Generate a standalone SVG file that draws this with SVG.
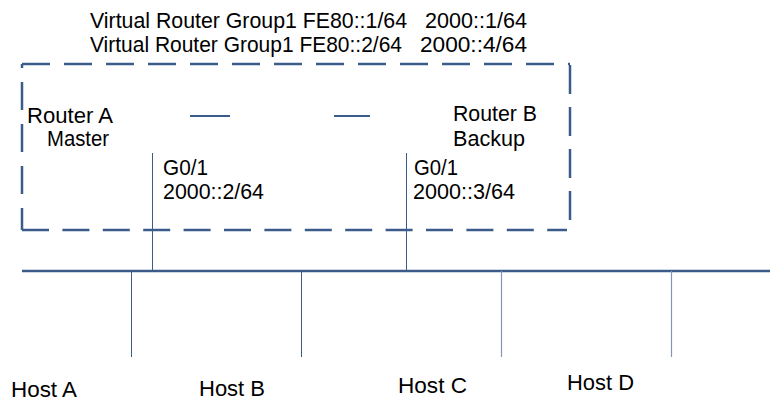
<svg xmlns="http://www.w3.org/2000/svg" width="770" height="401" viewBox="0 0 770 401">
<style>
text{font-family:"Liberation Sans",Arial,sans-serif;font-size:22px;fill:#000}
.edge{fill:none;stroke:#3B5B8B;stroke-width:2.5;stroke-dasharray:28 14}
.bus{stroke:#3B5B8B;stroke-width:2.5}
.thin{stroke:#3B5B8B;stroke-width:1}
.light{stroke:#8495B5;stroke-width:1.2}
.mid{stroke:#3B5B8B;stroke-width:2}
</style>
<rect width="770" height="401" fill="#fff"/>
<g id="virtual-router-group">
<line class="edge" x1="22" y1="64" x2="570" y2="64"/>
<line class="edge" x1="22" y1="64" x2="22" y2="230" stroke-dashoffset="24"/>
<line class="edge" x1="22" y1="230" x2="567" y2="230" style="stroke-dasharray:27 13.4"/>
<line class="edge" x1="570" y1="65" x2="570" y2="224" style="stroke-dasharray:29 13"/>
<line class="mid" x1="190" y1="116" x2="230" y2="116"/>
<line class="mid" x1="334" y1="116" x2="370" y2="116"/>
<text x="90" y="28" textLength="317" lengthAdjust="spacingAndGlyphs">Virtual Router Group1 FE80::1/64</text>
<text x="425" y="28" textLength="102" lengthAdjust="spacingAndGlyphs">2000::1/64</text>
<text x="90" y="52" textLength="312" lengthAdjust="spacingAndGlyphs">Virtual Router Group1 FE80::2/64</text>
<text x="420" y="52" textLength="107" lengthAdjust="spacingAndGlyphs">2000::4/64</text>
</g>
<g id="router-a">
<text x="27" y="123" textLength="86" lengthAdjust="spacingAndGlyphs">Router A</text>
<text x="47" y="146" textLength="62" lengthAdjust="spacingAndGlyphs">Master</text>
<text x="163" y="175" textLength="45" lengthAdjust="spacingAndGlyphs">G0/1</text>
<text x="163" y="199" textLength="101" lengthAdjust="spacingAndGlyphs">2000::2/64</text>
</g>
<g id="router-b">
<text x="453" y="121" textLength="84" lengthAdjust="spacingAndGlyphs">Router B</text>
<text x="453" y="146" textLength="72" lengthAdjust="spacingAndGlyphs">Backup</text>
<text x="414" y="175" textLength="44" lengthAdjust="spacingAndGlyphs">G0/1</text>
<text x="413" y="199" textLength="102" lengthAdjust="spacingAndGlyphs">2000::3/64</text>
</g>
<g id="connectors">
<line class="bus" x1="22" y1="271" x2="770" y2="271"/>
<line class="thin" x1="152.5" y1="153" x2="152.5" y2="271"/>
<line class="thin" x1="406.5" y1="153" x2="406.5" y2="271"/>
<line class="thin" x1="131.5" y1="271" x2="131.5" y2="357"/>
<line class="thin" x1="301.5" y1="271" x2="301.5" y2="357"/>
<line class="light" x1="501.5" y1="271" x2="501.5" y2="357"/>
<line class="light" x1="671.5" y1="271" x2="671.5" y2="357"/>
</g>
<g id="host-a"><text x="11" y="397" textLength="66" lengthAdjust="spacingAndGlyphs">Host A</text></g>
<g id="host-b"><text x="199" y="396" textLength="66" lengthAdjust="spacingAndGlyphs">Host B</text></g>
<g id="host-c"><text x="398" y="393" textLength="69" lengthAdjust="spacingAndGlyphs">Host C</text></g>
<g id="host-d"><text x="567" y="390" textLength="67" lengthAdjust="spacingAndGlyphs">Host D</text></g>
</svg>
